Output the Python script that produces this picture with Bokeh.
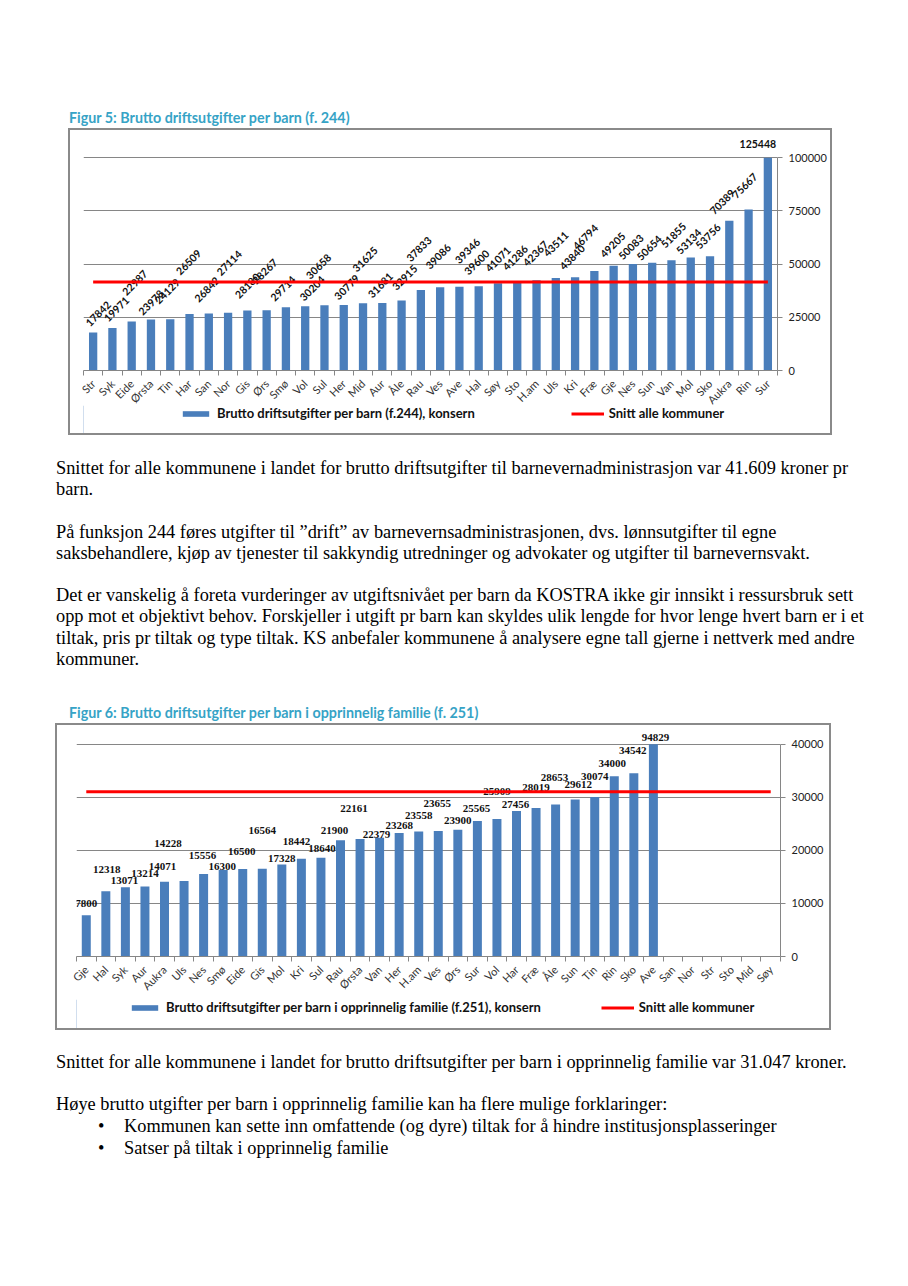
import math
import numpy as np
from bokeh.plotting import figure
from bokeh.models import (ColumnDataSource, FixedTicker, Range1d, Legend,
                          LegendItem, Div, NumeralTickFormatter)
from bokeh.layouts import column
from bokeh.core.properties import value
from bokeh.embed import file_html
from bokeh.resources import INLINE

# ---------------- data: Figur 5 ----------------
cats1 = ["Str", "Syk", "Eide", "Ørsta", "Tin", "Har", "San", "Nor", "Gis", "Ørs",
         "Smø", "Vol", "Sul", "Her", "Mid", "Aur", "Åle", "Rau", "Ves", "Ave",
         "Hal", "Søy", "Sto", "H.am", "Uls", "Kri", "Fræ", "Gje", "Nes", "Sun",
         "Van", "Mol", "Sko", "Aukra", "Rin", "Sur"]
vals1 = [17842, 19971, 22987, 23978, 24129, 26509, 26842, 27114, 28180, 28267,
         29714, 30204, 30658, 30779, 31625, 31681, 32915, 37833, 39086, 39346,
         39600, 41071, 41286, 42367, 43511, 43840, 46794, 49205, 50083, 50654,
         51855, 53134, 53756, 70389, 75667, 125448]
avg1 = 41609
yticks1 = [0, 25000, 50000, 75000, 100000]
title1 = "Figur 5: Brutto driftsutgifter per barn (f. 244)"
series1 = "Brutto driftsutgifter per barn (f.244), konsern"

# ---------------- data: Figur 6 ----------------
cats2 = ["Gje", "Hal", "Syk", "Aur", "Aukra", "Uls", "Nes", "Smø", "Eide", "Gis",
         "Mol", "Kri", "Sul", "Rau", "Ørsta", "Van", "Her", "H.am", "Ves", "Ørs",
         "Sur", "Vol", "Har", "Fræ", "Åle", "Sun", "Tin", "Rin", "Sko", "Ave",
         "San", "Nor", "Str", "Sto", "Mid", "Søy"]
vals2 = [7800, 12318, 13071, 13214, 14071, 14228, 15556, 16300, 16500, 16564,
         17328, 18442, 18640, 21900, 22161, 22379, 23268, 23558, 23655, 23900,
         25565, 25909, 27456, 28019, 28653, 29612, 30074, 34000, 34542, 94829]
avg2 = 31047
yticks2 = [0, 10000, 20000, 30000, 40000]
title2 = "Figur 6: Brutto driftsutgifter per barn i opprinnelig familie (f. 251)"
series2 = "Brutto driftsutgifter per barn i opprinnelig familie (f.251), konsern"
avg_label = "Snitt alle kommuner"

# ---------------- label placement (pixel nudges, layout only) ----------------
shift1 = [5, 4, 3, 0, -3, -1, -2, 1, 0, -2, -3, 7, -6, 3, 2, -2, 3, -2, -2, 8,
          -2, 0, -2, -1, 0, -3, -9, -1, -2, -3, 2, -2, -2, -7, -4, -10]
lift1 = [19, 19, 39, 17, 28, 52, 24, 50, 25, 39, 19, 18, 39, 18, 44, 18, 23, 41,
         31, 36, 24, 24, 25, 27, 34, 20, 34, 21, 17, 15, 25, 16, 20, 19, 24, 14]
shift2 = [0, 1, -1, 0, -2, -16, -1, -1, -1, 0, 0, -5, 1, -6, -6, -3, 0, 0, -1, 0,
          -1, 0, -1, 0, -1, 3, 0, -2, -1, 2]
lift2 = [12, 22, 7, 13, 15, 38, 18, 4, 17, 38, 6, 17, 9, 10, 30, 3, 8, 16, 28, 9,
         12, 28, 6, 20, 27, 15, 20, 13, 23, 7]

# ---------------- text ----------------
para1 = [
    "Snittet for alle kommunene i landet for brutto driftsutgifter til barnevernadministrasjon var 41.609 kroner pr",
    "barn.",
    "",
    "På funksjon 244 føres utgifter til \u201ddrift\u201d av barnevernsadministrasjonen, dvs. lønnsutgifter til egne",
    "saksbehandlere, kjøp av tjenester til sakkyndig utredninger og advokater og utgifter til barnevernsvakt.",
    "",
    "Det er vanskelig å foreta vurderinger av utgiftsnivået per barn da KOSTRA ikke gir innsikt i ressursbruk sett",
    "opp mot et objektivt behov. Forskjeller i utgift pr barn kan skyldes ulik lengde for hvor lenge hvert barn er i et",
    "tiltak, pris pr tiltak og type tiltak. KS anbefaler kommunene å analysere egne tall gjerne i nettverk med andre",
    "kommuner.",
]
para2 = [
    "Snittet for alle kommunene i landet for brutto driftsutgifter per barn i opprinnelig familie var 31.047 kroner.",
    "",
    "Høye brutto utgifter per barn i opprinnelig familie kan ha flere mulige forklaringer:",
]
bullets = [
    "Kommunen kan sette inn omfattende (og dyre) tiltak for å hindre institusjonsplasseringer",
    "Satser på tiltak i opprinnelig familie",
]

BAR = "#4A7EBB"
RED = "#FF0000"
GRID = "#868686"
TEAL = "#36A3C6"
BORDER = "2px solid #8a8a8a"


def chart(cats, vals, avg, yticks, shift, lift, g, lab_font, lab_size, rotate):
    n = len(cats)
    axis_max = yticks[-1]
    p = figure(frame_width=g["fw"], frame_height=g["fh"],
               x_range=Range1d(-0.5, n - 0.5), y_range=Range1d(0, g["yend"]),
               y_axis_location="right", toolbar_location=None,
               output_backend="svg",
               min_border_left=g["fl"], min_border_right=g["w"] - g["fl"] - g["fw"],
               min_border_top=g["ft"], min_border_bottom=g["fb"],
               outline_line_color=None, background_fill_color="white",
               border_fill_color="white")

    p.xgrid.visible = False
    p.ygrid.ticker = FixedTicker(ticks=yticks)
    p.ygrid.grid_line_color = GRID
    p.ygrid.grid_line_width = 1

    ya = p.yaxis[0]
    ya.ticker = FixedTicker(ticks=yticks, minor_ticks=[])
    ya.bounds = (0, axis_max)
    ya.formatter = NumeralTickFormatter(format="0")
    ya.axis_line_color = GRID
    ya.major_tick_line_color = GRID
    ya.major_tick_in = 0
    ya.major_tick_out = 5
    ya.minor_tick_line_color = None
    ya.major_label_standoff = 6
    ya.major_label_text_font = "Lato"
    ya.major_label_text_font_size = "11px"
    ya.major_label_text_color = "#222222"

    xa = p.xaxis[0]
    xs = list(range(n))
    xa.ticker = FixedTicker(ticks=xs, minor_ticks=[i - 0.5 for i in range(n + 1)])
    xa.major_label_overrides = {i: c for i, c in enumerate(cats)}
    xa.major_tick_line_color = None
    xa.minor_tick_line_color = GRID
    xa.minor_tick_in = 0
    xa.minor_tick_out = 5
    xa.axis_line_color = GRID
    xa.major_label_orientation = math.pi / 4
    xa.major_label_standoff = 5
    xa.major_label_text_font = "Lato"
    xa.major_label_text_font_size = "11px"
    xa.major_label_text_line_height = 1.0
    xa.major_label_text_color = "#333333"

    m = len(vals)
    tops = np.minimum(np.array(vals, dtype=float), axis_max)
    bsrc = ColumnDataSource(dict(x=xs[:m], top=tops))
    p.vbar(x="x", top="top", width=g["bw"], source=bsrc,
           fill_color=BAR, line_color=None)

    angles = [(math.pi / 4 if (rotate and v <= axis_max) else 0.0) for v in vals]
    lsrc = ColumnDataSource(dict(x=xs[:m], y=tops, t=[str(v) for v in vals],
                                 xo=shift, yo=[-v for v in lift], a=angles))
    p.text(x="x", y="y", text="t", x_offset="xo", y_offset="yo", angle="a",
           source=lsrc, text_align="center", text_baseline="middle",
           text_font=value(lab_font), text_font_style="bold",
           text_font_size=lab_size, text_color="#111111")

    p.line(x=[0, n - 1], y=[avg, avg], line_color=RED, line_width=3)
    return p


def legend_fig(series, avg, g):
    # a strip holding only the legend; its sample glyphs sit outside the view
    lf = figure(width=g["w"], height=g["lh"], x_range=Range1d(0, 1),
                y_range=Range1d(0, 1), toolbar_location=None,
                output_backend="svg", min_border=0,
                x_axis_location=None, y_axis_location=None,
                outline_line_color=None, border_fill_color=None,
                background_fill_color=None)
    lf.grid.visible = False
    rb = lf.vbar(x=[-5], top=[avg], width=0.5, fill_color=BAR, line_color=None)
    rl = lf.line(x=[-6, -5], y=[avg, avg], line_color=RED, line_width=3)
    leg = Legend(items=[LegendItem(label=series, renderers=[rb]),
                        LegendItem(label=avg_label, renderers=[rl])],
                 orientation="horizontal", location=(g["lx"], g["ly"]),
                 glyph_width=33, glyph_height=7, label_standoff=5,
                 spacing=g["ls"], padding=0, margin=0,
                 border_line_color=None, background_fill_alpha=0,
                 label_text_font="Lato", label_text_font_style="bold",
                 label_text_font_size="13px", label_height=14,
                 label_text_color="#111111")
    lf.add_layout(leg)
    lf.margin = (g["lo"], 0, 0, 0)
    return lf


g1 = dict(w=760, fl=13, fw=694, ft=6, fh=234, fb=34, yend=110000, bw=0.43,
          lh=28, lx=96, ly=12, ls=96, lo=-8)
g2 = dict(w=772, fl=19, fw=704, ft=4, fh=227, fb=34, yend=42800, bw=0.46,
          lh=29, lx=52, ly=13, ls=60, lo=0)

p1 = chart(cats1, vals1, avg1, yticks1, shift1, lift1, g1, "Lato", "10.5px", True)
p2 = chart(cats2, vals2, avg2, yticks2, shift2, lift2, g2, "Liberation Serif", "11px", False)
l1 = legend_fig(series1, avg1, g1)
l2 = legend_fig(series2, avg2, g2)

box1 = column(children=[p1, l1], spacing=0, margin=(1, 0, 0, 68),
              styles={"border": BORDER, "box-sizing": "content-box"})
box2 = column(children=[p2, l2], spacing=0, margin=(1, 0, 0, 55),
              styles={"border": BORDER, "box-sizing": "content-box"})

SERIF = "font-family:'Liberation Serif','Times New Roman',serif;font-size:18.35px;color:#000;"


def lines_html(lines, lh):
    out = []
    for t in lines:
        out.append(f'<div style="height:{lh}px;line-height:{lh}px;white-space:nowrap;">'
                   f'{t if t else "&nbsp;"}</div>')
    return "".join(out)


def title_div(text, top, left):
    html = (f'<div style="font-family:Lato,sans-serif;font-weight:bold;font-size:14.3px;'
            f'color:{TEAL};height:18px;line-height:18px;white-space:nowrap;">{text}</div>')
    return Div(text=html, width=560, height=18, margin=(top, 0, 0, left))


t1 = title_div(title1, 109, 69)
txt1 = Div(text=f'<div style="{SERIF}">' + lines_html(para1, 21.2) + '</div>',
           width=850, height=212, margin=(23, 0, 0, 56))
t2 = title_div(title2, 34, 69)

bul_html = "".join(
    f'<div style="height:22px;line-height:22px;white-space:nowrap;position:relative;">'
    f'<span style="position:absolute;left:42px;">\u2022</span>'
    f'<span style="position:absolute;left:68px;">{b}</span></div>'
    for b in bullets)
txt2 = Div(text=f'<div style="{SERIF}">' + lines_html(para2, 21) + bul_html + '</div>',
           width=850, height=110, margin=(22, 0, 0, 56))

page = column(children=[t1, box1, txt1, t2, box2, txt2], spacing=0)

open("out.html", "w").write(file_html(page, INLINE, title="Figur 5 og 6"))
